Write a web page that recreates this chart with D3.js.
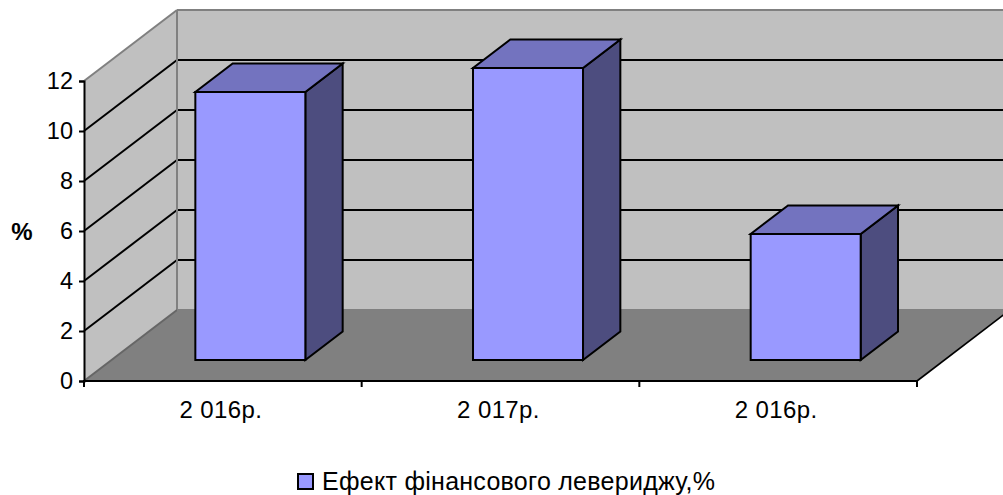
<!DOCTYPE html>
<html>
<head>
<meta charset="utf-8">
<script src="https://cdn.jsdelivr.net/npm/d3@7"></script>
<style>
  html, body { margin: 0; padding: 0; background: #fff; overflow: hidden; }
  svg { display: block; }
  text { font-family: "Liberation Sans", Arial, sans-serif; fill: #000; }
</style>
</head>
<body>
<script>
const categories = ["2 016р.", "2 017р.", "2 016р."];
const values = [10.72, 11.68, 5.04];
const yTicks = [0, 2, 4, 6, 8, 10, 12];
const seriesName = "Ефект фінансового левериджу,%";
const yTitle = "%";

const width = 1003, height = 495;
const svg = d3.select("body").append("svg").attr("width", width).attr("height", height);

const x = d3.scaleBand().domain(d3.range(categories.length)).range([84, 917]);
const y = d3.scaleLinear().domain([0, 12]).range([381, 81]);

// Oblique projection: depth runs 0 (front plane) to 1 (back wall).
const depthX = 93, depthY = -71;
const project = (px, py, d) => [px + depthX * d, py + depthY * d];
const polygon = (pts, fill, stroke, sw) => svg.append("polygon")
  .attr("points", pts.map(p => p.join(",")).join(" "))
  .attr("fill", fill).attr("stroke", stroke || "none").attr("stroke-width", sw || 0)
  .attr("stroke-linejoin", "miter");
const line = (a, b, stroke, sw) => svg.append("line")
  .attr("x1", a[0]).attr("y1", a[1]).attr("x2", b[0]).attr("y2", b[1])
  .attr("stroke", stroke).attr("stroke-width", sw);

const [xL, xR] = x.range();
const yTop = y(12), yBase = y(0);

// Walls and floor
polygon([project(xL, yTop, 1), project(xR, yTop, 1), project(xR, yBase, 1), project(xL, yBase, 1)], "#c0c0c0");
polygon([project(xL, yBase, 0), project(xL, yBase, 1), project(xL, yTop, 1), project(xL, yTop, 0)], "#c0c0c0");
polygon([project(xL, yBase, 0), project(xL, yBase, 1), project(xR, yBase, 1), project(xR, yBase, 0)], "#808080");

// Gridlines along the side wall and back wall
yTicks.filter(t => t > 0 && t < 12).forEach(t => {
  line(project(xL, y(t), 0), project(xL, y(t), 1), "#000", 2);
  line(project(xL, y(t), 1), project(xR, y(t), 1), "#000", 2);
});
line(project(xL, y(12), 1), project(xR, y(12), 1), "#808080", 2);
line(project(xL, y(12), 0), project(xL, y(12), 1), "#808080", 2);
line(project(xL, y(0), 1), project(xL, y(12), 1), "#808080", 2);
line(project(xL, y(0), 0), project(xL, y(0), 1), "#666", 2);
line(project(xL, y(0), 1), project(xR, y(0), 1), "#808080", 2);
line(project(xR, y(0), 0), project(xR, y(0), 1), "#000", 1.6);

// Columns, sitting part-way into the depth of the floor
const dFront = 21 / 71, dBack = 49.5 / 71, barW = 110;
values.forEach((v, i) => {
  const cx = x(i) + x.bandwidth() / 2;
  const l = cx - barW / 2, r = cx + barW / 2;
  const a = (px, py) => project(px, py, dFront);
  const b = (px, py) => project(px, py, dBack);
  polygon([a(r, y(0)), a(r, y(v)), b(r, y(v)), b(r, y(0))], "#4d4d7f", "#000", 2);
  polygon([a(l, y(v)), a(r, y(v)), b(r, y(v)), b(l, y(v))], "#7373bf", "#000", 2);
  polygon([a(l, y(0)), a(r, y(0)), a(r, y(v)), a(l, y(v))], "#9999ff", "#000", 2);
});

// Value axis
const yAxis = svg.append("g").attr("transform", `translate(${xL},0)`)
  .call(d3.axisLeft(y).tickValues(yTicks).tickSize(5).tickPadding(6).tickFormat(d3.format("d")));
yAxis.select(".domain").attr("stroke", "#000").attr("stroke-width", 2);
yAxis.selectAll(".tick line").attr("stroke", "#000").attr("stroke-width", 2);
yAxis.selectAll("text").attr("font-size", 23.5).attr("fill", "#000")
  .style("font-family", '"Liberation Sans", Arial, sans-serif');

// Category axis
const xAxis = svg.append("g").attr("transform", `translate(-2,${yBase})`)
  .call(d3.axisBottom(x).tickFormat(i => categories[i]).tickSize(0).tickPadding(20));
xAxis.select(".domain").remove();
xAxis.selectAll("text").attr("font-size", 24).attr("fill", "#000")
  .attr("letter-spacing", 0.4)
  .style("font-family", '"Liberation Sans", Arial, sans-serif');
line([xL - 1, yBase], [xR + 1, yBase], "#000", 2);
[0, 1, 2, 3].forEach(i => {
  const tx = xL + x.step() * i;
  line([tx, yBase], [tx, yBase + 6], "#000", 2);
});

// Axis title
svg.append("text").attr("x", 22).attr("y", 240).attr("text-anchor", "middle")
  .attr("font-size", 24).attr("font-weight", "bold").text(yTitle);

// Legend
svg.append("rect").attr("x", 298).attr("y", 474).attr("width", 15).attr("height", 15)
  .attr("fill", "#9999ff").attr("stroke", "#000").attr("stroke-width", 2);
svg.append("text").attr("x", 322).attr("y", 490).attr("font-size", 25)
  .attr("textLength", 393).attr("lengthAdjust", "spacing").text(seriesName);
</script>
</body>
</html>
